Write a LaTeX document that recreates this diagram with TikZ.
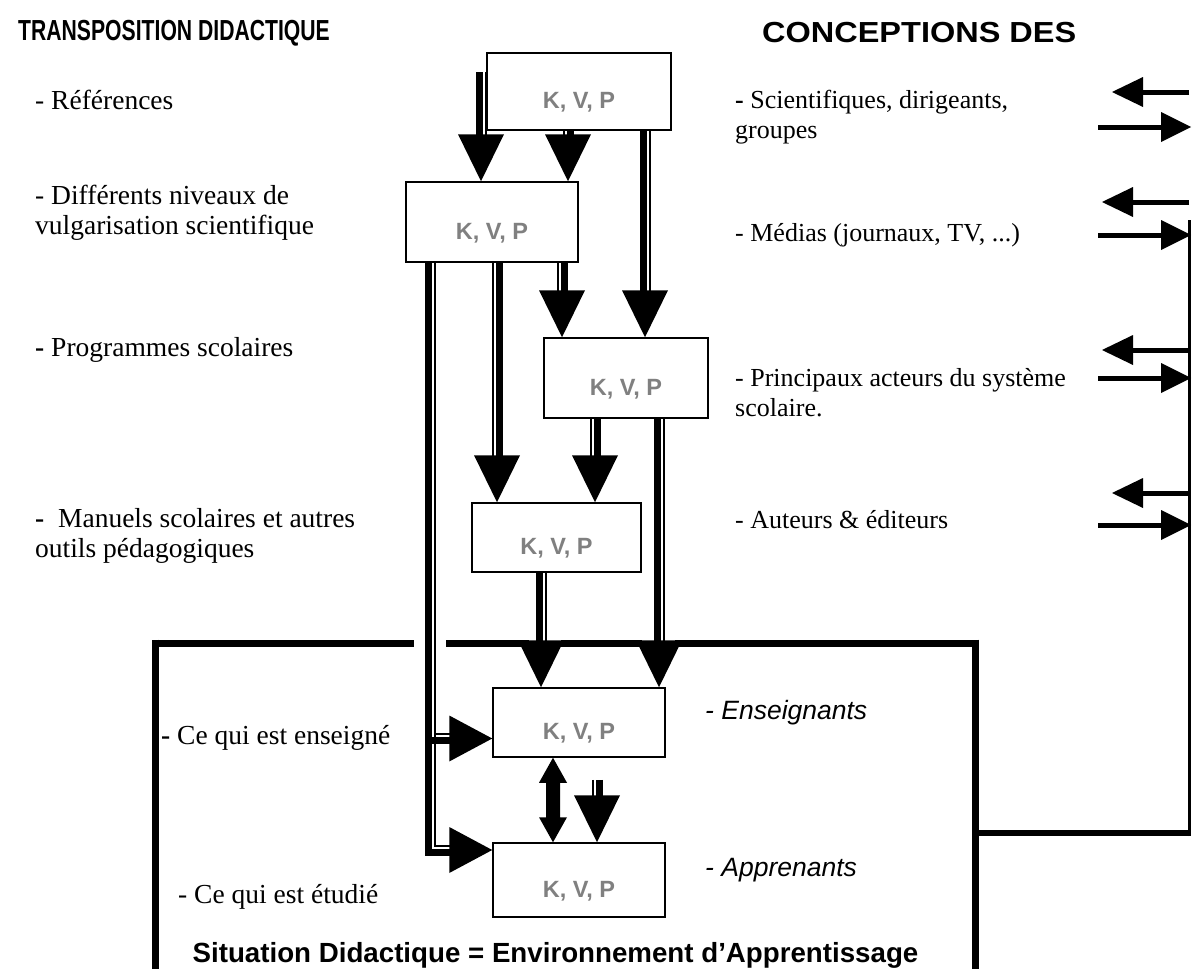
\documentclass[tikz,border=0pt]{standalone}
\usepackage{fontspec}
\setmainfont{Liberation Serif}
\setsansfont{Liberation Sans}
\newfontfamily\titlefont[FakeStretch=0.73]{Liberation Sans}
\newfontfamily\titlefontwide[FakeStretch=1.12]{Liberation Sans}
\usetikzlibrary{calc}
\definecolor{kvpgray}{RGB}{128,128,128}

% double-striped downward block arrow: #1 start, #2 apex, #3 side (1 = thick part on the left)
\newcommand\darr[3]{%
  \path (#2) ++(0,-46) coordinate (hb);
  \draw[line width=7pt] ($(#1)+({-2*(#3)},0)$) -- ($(hb)+({-2*(#3)},0)$);
  \draw[line width=2pt] ($(#1)+({4.5*(#3)},0)$) -- ($(hb)+({4.5*(#3)},0)$);
  \fill (#2) -- ++(-23,-47) -- ++(46,0) -- cycle;
}
% small left / right arrows on the right side
\newcommand\larr[2]{%
  \draw[line width=5pt] (#1) -- ($(#2)+(30,0)$);
  \fill (#2) -- ++(31,-15) -- ++(0,30) -- cycle;
}
\newcommand\rarr[2]{%
  \draw[line width=5pt] (#1) -- ($(#2)+(-29,0)$);
  \fill (#2) -- ++(-30,-15) -- ++(0,30) -- cycle;
}

\tikzset{
  kvpbox/.style={draw, line width=1.5pt, fill=white, inner sep=0pt,
    font=\sffamily\bfseries\fontsize{23.5}{23.5}\selectfont, text=kvpgray,
    text height=34pt, text depth=0pt},
  lab/.style={anchor=west, inner sep=0pt, align=left, font=\fontsize{27.5}{30}\selectfont},
  rlab/.style={anchor=west, inner sep=0pt, align=left, font=\fontsize{26}{30}\selectfont},
  itlab/.style={anchor=west, inner sep=0pt, font=\sffamily\itshape\fontsize{26.5}{30}\selectfont},
  ttl/.style={anchor=west, inner sep=0pt, font=\titlefont\bfseries\fontsize{29}{29}\selectfont},
  ttlw/.style={anchor=west, inner sep=0pt, font=\titlefontwide\bfseries\fontsize{29}{29}\selectfont},
  frameline/.style={line width=7pt},
}

\begin{document}
\begin{tikzpicture}[x=1pt,y=-1pt]
\useasboundingbox[fill=white] (0,0) rectangle (1192,969);

% titles
\node[ttl] (t1) at (18,33) {TRANSPOSITION DIDACTIQUE};
\node[ttlw] (t2) at (762,33) {CONCEPTIONS DES};

% environment frame (with gaps where arrows pass)
\draw[frameline] (152,643) -- (414,643);
\draw[frameline] (446,643) -- (529,643);
\draw[frameline] (561,643) -- (642,643);
\draw[frameline] (675,643) -- (978.5,643);
\draw[frameline] (155.5,639.5) -- (155.5,975);
\draw[frameline] (975,639.5) -- (975,975);
\coordinate (envr) at (975,833);

% right-hand feedback connector
\draw[line width=6pt] (envr) -- (1189,833) coordinate (cb);
\draw[line width=3pt] ($(cb)+(0,3)$) -- (1189,220) coordinate (ct);

% right-side arrow pairs
\larr{1189,92}{1112,92}
\rarr{1098,127}{1191,127}
\larr{1189,202}{1102,202}
\rarr{1098,235}{1191,235}
\larr{1189,350}{1102,350}
\rarr{1098,378}{1191,378}
\larr{1189,493}{1112,493}
\rarr{1098,525}{1191,525}

% K, V, P boxes
\node[kvpbox, minimum width=184, minimum height=77] (b1) at (579,91.5) {K, V, P};
\node[kvpbox, minimum width=172, minimum height=80] (b2) at (492,222) {K, V, P};
\node[kvpbox, minimum width=164, minimum height=80] (b3) at (626,378) {K, V, P};
\node[kvpbox, minimum width=169, minimum height=69] (b4) at (556.5,537.5) {K, V, P};
\node[kvpbox, minimum width=172, minimum height=69] (b5) at (579,722.5) {K, V, P};
\node[kvpbox, minimum width=172, minimum height=74] (b6) at (579,880) {K, V, P};

% vertical block arrows
\coordinate (a1s) at (481,72);
\coordinate (a1e) at (481,0 |- b2.north);
\darr{a1s}{a1e}{1}
\coordinate (a2s) at (568,0 |- b1.south);
\coordinate (a2e) at (568,0 |- b2.north);
\darr{a2s}{a2e}{-1}
\coordinate (a3s) at (645,0 |- b1.south);
\coordinate (a3e) at (645,0 |- b3.north);
\darr{a3s}{a3e}{1}
\coordinate (a5s) at (497,0 |- b2.south);
\coordinate (a5e) at (497,0 |- b4.north);
\darr{a5s}{a5e}{-1}
\coordinate (a6s) at (562,0 |- b2.south);
\coordinate (a6e) at (562,0 |- b3.north);
\darr{a6s}{a6e}{-1}
\coordinate (a7s) at (595,0 |- b3.south);
\coordinate (a7e) at (595,0 |- b4.north);
\darr{a7s}{a7e}{-1}
\coordinate (a8s) at (659,0 |- b3.south);
\coordinate (a8e) at (659,0 |- b5.north);
\darr{a8s}{a8e}{1}
\coordinate (a9s) at (541,0 |- b4.south);
\coordinate (a9e) at (541,0 |- b5.north);
\darr{a9s}{a9e}{1}
\path (597,0 |- b5.south) ++(0,22) coordinate (a11s);
\coordinate (a11e) at (597,0 |- b6.north);
\darr{a11s}{a11e}{-1}

% long elbow arrow from b2 to b5 and b6
\coordinate (a4s) at (430,0 |- b2.south);
\path ($(b5.west)+(0,16)$) coordinate (a4t1);
\path ($(b6.west)+(0,-30)$) coordinate (a4t2);
\draw[line width=7pt] ($(a4s)+(-2,0)$) |- ($(a4t2)+(-42,2)$);
\draw[line width=2pt] ($(a4s)+(4.5,0)$) |- ($(a4t2)+(-42,-4.5)$);
\draw[line width=7pt] ($(a4s |- a4t1)+(-2,2)$) -- ($(a4t1)+(-42,2)$);
\draw[line width=2pt] ($(a4s |- a4t1)+(4.5,-4.5)$) -- ($(a4t1)+(-42,-4.5)$);
\fill (a4t1) -- ++(-43,-23) -- ++(0,46) -- cycle;
\fill (a4t2) -- ++(-43,-23) -- ++(0,46) -- cycle;

% double-headed arrow between b5 and b6
\coordinate (d1) at (553,0 |- b5.south);
\coordinate (d2) at (553,0 |- b6.north);
\fill (d1) -- ++(-14,25) -- ++(7,0) -- ($(d2)+(-7,-25)$) -- ++(-7,0) -- (d2)
      -- ++(14,-25) -- ++(-7,0) -- ($(d1)+(7,25)$) -- ++(7,0) -- cycle;

% left labels
\node[lab] (l1) at (35,100) {- Références};
\node[lab] (l2) at (35,213) {- Différents niveaux de\\vulgarisation scientifique};
\node[lab] (l3) at (35,350) {\textbf{-} Programmes scolaires};
\node[lab] (l4) at (35,536) {\textbf{-}\ \ Manuels scolaires et autres\\outils pédagogiques};
\node[lab] (l5) at (161,738) {\textbf{-}\ Ce qui est enseigné};
\node[lab] (l6) at (178,897) {- Ce qui est étudié};

% right labels
\node[rlab] (r1) at (735,117) {\textbf{-} Scientifiques, dirigeants,\\groupes};
\node[rlab] (r2) at (735,235) {- Médias (journaux, TV, ...)};
\node[rlab] (r3) at (735,393) {- Principaux acteurs du système\\scolaire.};
\node[rlab] (r4) at (735,520) {- Auteurs \& éditeurs};
\node[itlab] (r5) at (705,713) {- Enseignants};
\node[itlab] (r6) at (705,870) {- Apprenants};

\node[inner sep=0pt, font=\sffamily\bfseries\fontsize{27.7}{27.7}\selectfont] (sit) at (555.5,955)
  {Situation Didactique = Environnement d’Apprentissage};
\end{tikzpicture}
\end{document}
